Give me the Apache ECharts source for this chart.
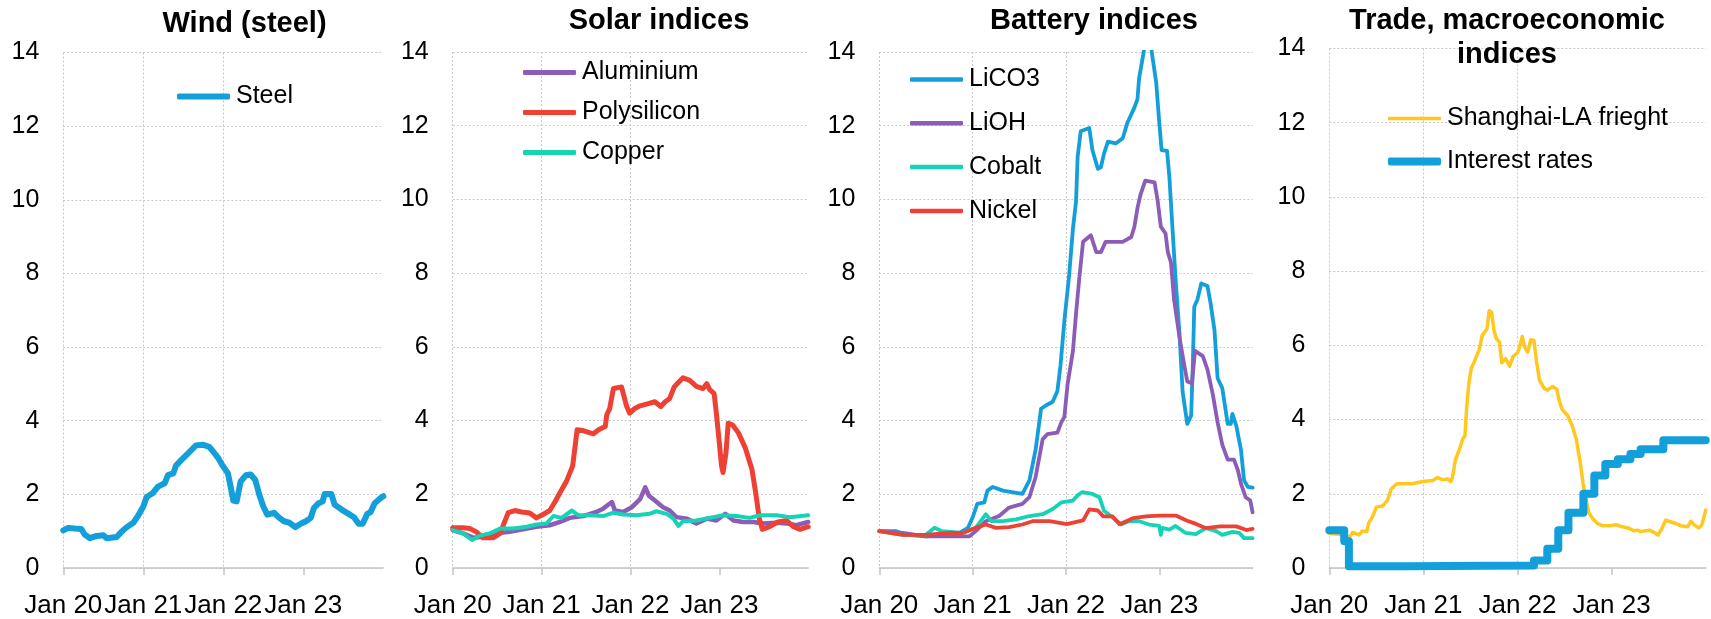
<!DOCTYPE html>
<html>
<head>
<meta charset="utf-8">
<script src="https://cdn.jsdelivr.net/npm/echarts@6/dist/echarts.min.js"></script>
<style>
  html, body { margin: 0; padding: 0; background: #fff; }
  #chart { width: 1711px; height: 619px; }
</style>
</head>
<body>
<div id="chart"></div>
<script>
// x values are months since Jan 2020 (0 = Jan 20, 48 = Jan 24)
const yearTicks = [0, 12, 24, 36]
const tickLabels = ['Jan 20', 'Jan 21', 'Jan 22', 'Jan 23']

// Wind (steel)
const steel = [
  [0, 1.02], [0.75, 1.09], [1.7, 1.07], [2.7, 1.06], [3.2, 0.91], [4, 0.81], [5, 0.87], [6, 0.89],
  [6.5, 0.81], [8, 0.84], [8.7, 0.98], [9.5, 1.11], [10.5, 1.23], [11.2, 1.41], [12, 1.67], [12.5, 1.93],
  [13.4, 2.03], [14.2, 2.21], [15.2, 2.3], [15.7, 2.52], [16.5, 2.57], [16.9, 2.78], [17.9, 2.97],
  [18.9, 3.15], [19.9, 3.33], [20.9, 3.35], [21.9, 3.29], [22.7, 3.11], [23.3, 2.97], [23.9, 2.78],
  [24.7, 2.57], [25.1, 2.21], [25.5, 1.83], [26, 1.81], [26.6, 2.35], [27.4, 2.52], [28.1, 2.54],
  [28.8, 2.39], [29.4, 1.99], [30, 1.67], [30.6, 1.45], [31.6, 1.5], [32.4, 1.36], [33.1, 1.27],
  [33.9, 1.23], [34.8, 1.11], [35.6, 1.2], [36.4, 1.27], [37.1, 1.36], [37.6, 1.63], [38.3, 1.76],
  [38.9, 1.81], [39.2, 2.01], [40.2, 2.01], [40.7, 1.72], [41.8, 1.58], [42.8, 1.47], [43.6, 1.38],
  [44.3, 1.2], [44.9, 1.2], [45.6, 1.47], [46.1, 1.52], [46.7, 1.76], [47.6, 1.9], [48, 1.95]
]

// Solar indices
const aluminium = [
  [0, 1.03], [1.4, 0.94], [2.8, 0.82], [4.1, 0.85], [5.9, 0.94], [7.7, 0.98], [9.5, 1.05], [11.3, 1.12],
  [13.1, 1.16], [14.5, 1.25], [15.8, 1.36], [17.6, 1.41], [19.4, 1.52], [20.3, 1.61], [21.5, 1.79],
  [21.9, 1.56], [23, 1.52], [24.2, 1.65], [25.3, 1.87], [26, 2.19], [26.5, 1.96], [27.3, 1.83],
  [28.4, 1.65], [29.3, 1.56], [30.2, 1.38], [31.6, 1.34], [32.9, 1.21], [34.3, 1.34], [35.6, 1.29],
  [36.8, 1.47], [37.9, 1.29], [39.2, 1.25], [40.6, 1.25], [41.9, 1.21], [43.7, 1.23], [45.1, 1.21],
  [46.4, 1.16], [48, 1.25]
]
const polysilicon = [
  [0, 1.09], [1.4, 1.09], [2.3, 1.07], [3.2, 0.98], [4.1, 0.82], [5.5, 0.82], [6.4, 0.94], [7, 1.25],
  [7.5, 1.5], [8.4, 1.56], [9.3, 1.52], [10.4, 1.49], [11.3, 1.36], [12, 1.43], [13.1, 1.56], [13.8, 1.79],
  [14.5, 2.05], [15.4, 2.37], [16.2, 2.77], [16.8, 3.75], [17.6, 3.73], [19, 3.64], [19.7, 3.75],
  [20.6, 3.84], [20.8, 4.15], [21.2, 4.33], [21.7, 4.87], [22.8, 4.91], [23.5, 4.38], [23.9, 4.2],
  [24.6, 4.33], [25.3, 4.4], [26.4, 4.46], [27.3, 4.51], [28.1, 4.38], [28.7, 4.51], [29.3, 4.6],
  [29.9, 4.91], [30.5, 5.04], [31.1, 5.16], [32, 5.09], [32.9, 4.93], [33.8, 4.87], [34.3, 5.0],
  [34.7, 4.84], [35.3, 4.73], [35.6, 4.2], [36, 3.39], [36.3, 2.77], [36.5, 2.59], [36.9, 3.13],
  [37.2, 3.93], [37.8, 3.88], [38.6, 3.66], [39.5, 3.26], [40.4, 2.68], [40.9, 2.05], [41.4, 1.34],
  [41.8, 1.05], [42.8, 1.12], [43.9, 1.25], [45.1, 1.29], [46, 1.12], [46.9, 1.05], [48, 1.12]
]
const copper = [
  [0, 1.03], [1.4, 0.94], [2.6, 0.76], [3.7, 0.88], [5, 0.94], [6.4, 1.07], [8.2, 1.07], [10, 1.12],
  [11.3, 1.18], [12.7, 1.21], [13.6, 1.41], [14.7, 1.36], [16.1, 1.56], [17, 1.43], [18.5, 1.43],
  [20.3, 1.41], [21.7, 1.5], [23, 1.45], [24.8, 1.43], [26.6, 1.47], [27.5, 1.54], [28.9, 1.47],
  [29.8, 1.34], [30.5, 1.14], [31.1, 1.27], [32.9, 1.29], [34.7, 1.36], [36.5, 1.43], [38.3, 1.41],
  [40.1, 1.36], [41.5, 1.43], [43.7, 1.43], [45.5, 1.38], [48, 1.43]
]

// Battery indices
const lico3 = [
  [0, 1.0], [2.1, 1.0], [3.4, 0.9], [6, 0.86], [8.1, 0.9], [10.3, 0.95], [11.4, 1.09], [12, 1.37],
  [12.6, 1.74], [13.5, 1.78], [13.9, 2.1], [14.6, 2.2], [15.9, 2.1], [18.4, 2.01], [19.3, 2.38],
  [20.1, 3.21], [20.8, 4.32], [21.4, 4.41], [22.3, 4.51], [22.9, 4.8], [23.3, 5.5], [23.8, 6.72],
  [24.4, 7.92], [24.9, 9.21], [25.3, 9.95], [25.5, 11.15], [25.9, 11.85], [27, 11.94], [27.4, 11.34],
  [28.1, 10.83], [28.5, 10.88], [28.9, 11.25], [29.4, 11.57], [30.4, 11.52], [31.3, 11.66],
  [31.9, 12.08], [32.8, 12.49], [33.2, 12.72], [33.4, 13.28], [33.9, 13.88], [34.3, 14.4], [34.8, 14.4],
  [35.1, 13.9], [35.6, 13.18], [36, 12.08], [36.3, 11.34], [37, 11.32], [37.3, 10.6], [37.7, 9.21],
  [38.1, 7.83], [38.6, 6.35], [39, 4.78], [39.6, 3.91], [40.1, 4.14], [40.3, 5.43], [40.5, 7.09],
  [40.9, 7.28], [41.4, 7.72], [42.2, 7.65], [42.6, 7.18], [43.1, 6.45], [43.5, 5.15], [44.1, 4.88],
  [44.8, 3.91], [45.2, 3.91], [45.4, 4.18], [45.9, 3.86], [46.5, 3.21], [46.9, 2.38], [47.4, 2.2],
  [48, 2.18]
]
const lioh = [
  [0, 1.0], [3, 0.95], [6, 0.86], [9, 0.86], [11.6, 0.86], [12.4, 1.0], [13.7, 1.27], [15.4, 1.41],
  [16.7, 1.64], [18.4, 1.74], [19.3, 1.92], [20.1, 2.47], [21, 3.49], [21.6, 3.63], [22.9, 3.67],
  [23.4, 3.95], [23.8, 4.1], [24.2, 4.97], [24.9, 5.89], [25.3, 6.91], [25.7, 7.83], [26.2, 8.85],
  [27.2, 9.03], [27.9, 8.57], [28.5, 8.57], [29.1, 8.85], [31.3, 8.85], [32.4, 8.98], [32.8, 9.26],
  [33.2, 9.77], [33.6, 10.14], [34.2, 10.51], [35.4, 10.46], [35.8, 9.95], [36.2, 9.26], [36.8, 9.08],
  [37.1, 8.57], [37.5, 8.29], [37.9, 7.28], [38.6, 6.26], [39.2, 5.52], [39.6, 5.06], [40.2, 5.01],
  [40.6, 5.89], [41.6, 5.75], [42.2, 5.38], [42.9, 4.69], [43.5, 3.95], [44.1, 3.35], [44.8, 2.94],
  [45.6, 2.94], [46.1, 2.66], [46.5, 2.29], [47.1, 1.92], [47.7, 1.83], [48, 1.51]
]
const cobalt = [
  [0, 1.0], [3, 0.9], [6, 0.9], [7.1, 1.09], [8.1, 1.0], [10.7, 0.95], [12.4, 1.09], [13.7, 1.46],
  [14.4, 1.27], [15.9, 1.27], [17.6, 1.32], [19.3, 1.41], [21, 1.46], [22.3, 1.6], [23.4, 1.78],
  [24.9, 1.83], [25.5, 1.97], [26.1, 2.06], [27.4, 2.01], [28.3, 1.92], [28.9, 1.55], [30, 1.37],
  [31.1, 1.18], [32.1, 1.27], [33.4, 1.27], [34.7, 1.18], [36, 1.14], [36.2, 0.9], [36.4, 1.09],
  [37.3, 1.04], [38.1, 1.14], [39.4, 0.95], [40.7, 0.92], [42, 1.09], [43.3, 1.0], [44.1, 0.9],
  [45.4, 0.98], [46.3, 0.95], [46.9, 0.81], [48, 0.81]
]
const nickel = [
  [0, 1.0], [3, 0.9], [6, 0.9], [9, 0.95], [10.7, 0.95], [12.4, 1.09], [13.7, 1.18], [15, 1.09],
  [16.7, 1.11], [18.4, 1.18], [19.7, 1.27], [21.9, 1.27], [24.1, 1.19], [26.2, 1.29], [27, 1.59],
  [28.1, 1.56], [28.8, 1.4], [30, 1.4], [30.9, 1.19], [32.6, 1.35], [34.3, 1.4], [36, 1.42],
  [38.2, 1.42], [39.5, 1.29], [40.8, 1.19], [42, 1.08], [43.8, 1.13], [45.9, 1.13], [47.2, 1.03],
  [48, 1.06]
]

// Trade, macroeconomic indices
const freight = [
  [0, 0.93], [1.3, 0.91], [1.9, 0.84], [2.6, 0.84], [3, 0.96], [3.8, 0.89], [4.2, 1.0], [4.8, 0.98],
  [5, 1.2], [5.5, 1.38], [6, 1.64], [6.8, 1.67], [7.4, 1.82], [7.9, 2.13], [8.6, 2.27], [9.8, 2.27],
  [10.6, 2.27], [11.9, 2.33], [13.2, 2.36], [13.8, 2.44], [14.4, 2.38], [15.1, 2.4], [15.5, 2.33],
  [15.7, 2.44], [16.1, 2.93], [16.6, 3.2], [17, 3.47], [17.3, 3.57], [17.5, 4.27], [17.8, 4.98],
  [18.1, 5.38], [18.5, 5.56], [18.8, 5.73], [19.1, 5.87], [19.5, 6.27], [20.1, 6.44], [20.4, 6.93],
  [20.7, 6.89], [21, 6.4], [21.3, 6.18], [21.7, 6.09], [22, 5.53], [22.5, 5.64], [23, 5.44],
  [23.4, 5.69], [24, 5.8], [24.2, 5.91], [24.6, 6.24], [24.9, 5.96], [25.3, 5.82], [25.7, 6.15],
  [26.1, 6.13], [26.4, 5.6], [26.8, 5.07], [27.4, 4.84], [27.8, 4.8], [28.5, 4.89], [29, 4.82],
  [29.3, 4.53], [29.7, 4.27], [30.4, 4.11], [31, 3.82], [31.5, 3.47], [32, 2.84], [32.4, 2.22],
  [32.8, 1.78], [33.1, 1.49], [33.6, 1.33], [34.2, 1.2], [34.8, 1.14], [35.9, 1.14], [36.5, 1.17],
  [37.4, 1.11], [38.2, 1.07], [38.9, 1.0], [39.3, 1.02], [39.7, 0.98], [40.8, 1.02], [41.4, 0.96],
  [41.9, 0.89], [42.3, 1.02], [42.9, 1.29], [43.6, 1.24], [44.2, 1.2], [44.8, 1.14], [45.7, 1.11],
  [46.1, 1.26], [46.5, 1.17], [47.1, 1.08], [47.5, 1.16], [48, 1.56]
]
const interestRates = [
  [0, 1.02], [1.9, 0.72], [2.5, 0.05], [10, 0.06], [20, 0.07], [26.1, 0.2], [27.8, 0.52],
  [29.2, 1.02], [30.5, 1.49], [32.4, 2.0], [33.8, 2.49], [35.2, 2.8], [36.8, 2.93], [38.4, 3.07],
  [39.7, 3.2], [42.6, 3.44], [48, 3.44]
]

const BLUE = '#139fda'
const PURPLE = '#8b5db7'
const RED = '#ee4133'
const TEAL = '#17d3b5'
const YELLOW = '#ffc81f'
const FONT = '"Liberation Sans", Arial, sans-serif'

// panel boxes in px
const grids = [
  { left: 63.3, top: 52.5, width: 320, height: 521.3 },
  { left: 452.7, top: 52, width: 355.5, height: 521.8 },
  { left: 879.3, top: 52, width: 373.3, height: 521.8 },
  { left: 1329.3, top: 48.5, width: 376.4, height: 525.3 },
]

const titles = [
  { text: 'Wind (steel)', left: 239.5, top: 2 },
  { text: 'Solar indices', left: 654, top: -1 },
  { text: 'Battery indices', left: 1089, top: -1 },
  { text: 'Trade, macroeconomic\nindices', left: 1502, top: -1 },
]

// one legend block per panel (thickness = icon height)
const legends = [
  { names: ['Steel'], left: 177, top: 84, gap: 15, thick: 6 },
  { names: ['Aluminium', 'Polysilicon', 'Copper'], left: 523, top: 60, gap: 15, thick: 5 },
  { names: ['LiCO3', 'LiOH', 'Cobalt', 'Nickel'], left: 910, top: 67, gap: 18.8, thick: 4.5 },
  { names: ['Shanghai-LA frieght'], left: 1388, top: 106, gap: 10, thick: 3.5 },
  { names: ['Interest rates'], left: 1388, top: 149, gap: 10, thick: 8 },
]

function xAxisFor(i) {
  return {
    type: 'value', gridIndex: i, min: 0, max: 48, interval: 12,
    axisLine: { show: true, onZero: false, lineStyle: { color: '#c4c4c4', width: 1.5 } },
    axisTick: { show: true, length: 7, customValues: yearTicks, lineStyle: { color: '#c4c4c4', width: 1.5 } },
    axisLabel: {
      customValues: yearTicks, margin: 25, color: '#000', fontSize: 26, fontFamily: FONT,
      formatter: v => tickLabels[yearTicks.indexOf(v)] || ''
    },
    splitLine: { show: true, showMaxLine: false, lineStyle: { color: '#c8c8c8', width: 1, type: [2, 2] } },
  }
}

function yAxisFor(i) {
  return {
    type: 'value', gridIndex: i, min: 0, max: 14, interval: 2,
    axisLine: { show: false }, axisTick: { show: false },
    axisLabel: { margin: 24, color: '#000', fontSize: 25, fontFamily: FONT },
    splitLine: { show: true, lineStyle: { color: '#c8c8c8', width: 1, type: [2, 2] } },
  }
}

function line(name, data, idx, color, width, extra) {
  return Object.assign({
    name, type: 'line', xAxisIndex: idx, yAxisIndex: idx, data,
    symbol: 'none', smooth: false, clip: true,
    lineStyle: { color, width, join: 'round', cap: 'round' },
    itemStyle: { color },
  }, extra || {})
}

const chart = echarts.init(document.getElementById('chart'))
chart.setOption({
  animation: false,
  backgroundColor: '#fff',
  title: titles.map(t => ({
    text: t.text, left: t.left, top: t.top, textAlign: 'center',
    textStyle: { fontSize: 29, fontWeight: 'bold', color: '#000', fontFamily: FONT, lineHeight: 34 },
  })),
  legend: legends.map(l => ({
    data: l.names, left: l.left, top: l.top, orient: 'vertical', icon: 'roundRect',
    itemWidth: 53, itemHeight: l.thick, itemGap: l.gap, selectedMode: false, padding: 0,
    textStyle: { fontSize: 25, color: '#000', fontFamily: FONT, padding: [0, 0, 0, 1] },
  })),
  grid: grids.map(g => Object.assign({ containLabel: false }, g)),
  xAxis: [0, 1, 2, 3].map(xAxisFor),
  yAxis: [0, 1, 2, 3].map(yAxisFor),
  series: [
    line('Steel', steel, 0, BLUE, 6),
    line('Aluminium', aluminium, 1, PURPLE, 4.5),
    line('Polysilicon', polysilicon, 1, RED, 5),
    line('Copper', copper, 1, TEAL, 4),
    line('LiCO3', lico3, 2, BLUE, 3.8),
    line('LiOH', lioh, 2, PURPLE, 3.8),
    line('Cobalt', cobalt, 2, TEAL, 3.8),
    line('Nickel', nickel, 2, RED, 3.8),
    line('Shanghai-LA frieght', freight, 3, YELLOW, 3.5),
    line('Interest rates', interestRates, 3, BLUE, 8, { step: 'end' }),
  ],
})
</script>
</body>
</html>
